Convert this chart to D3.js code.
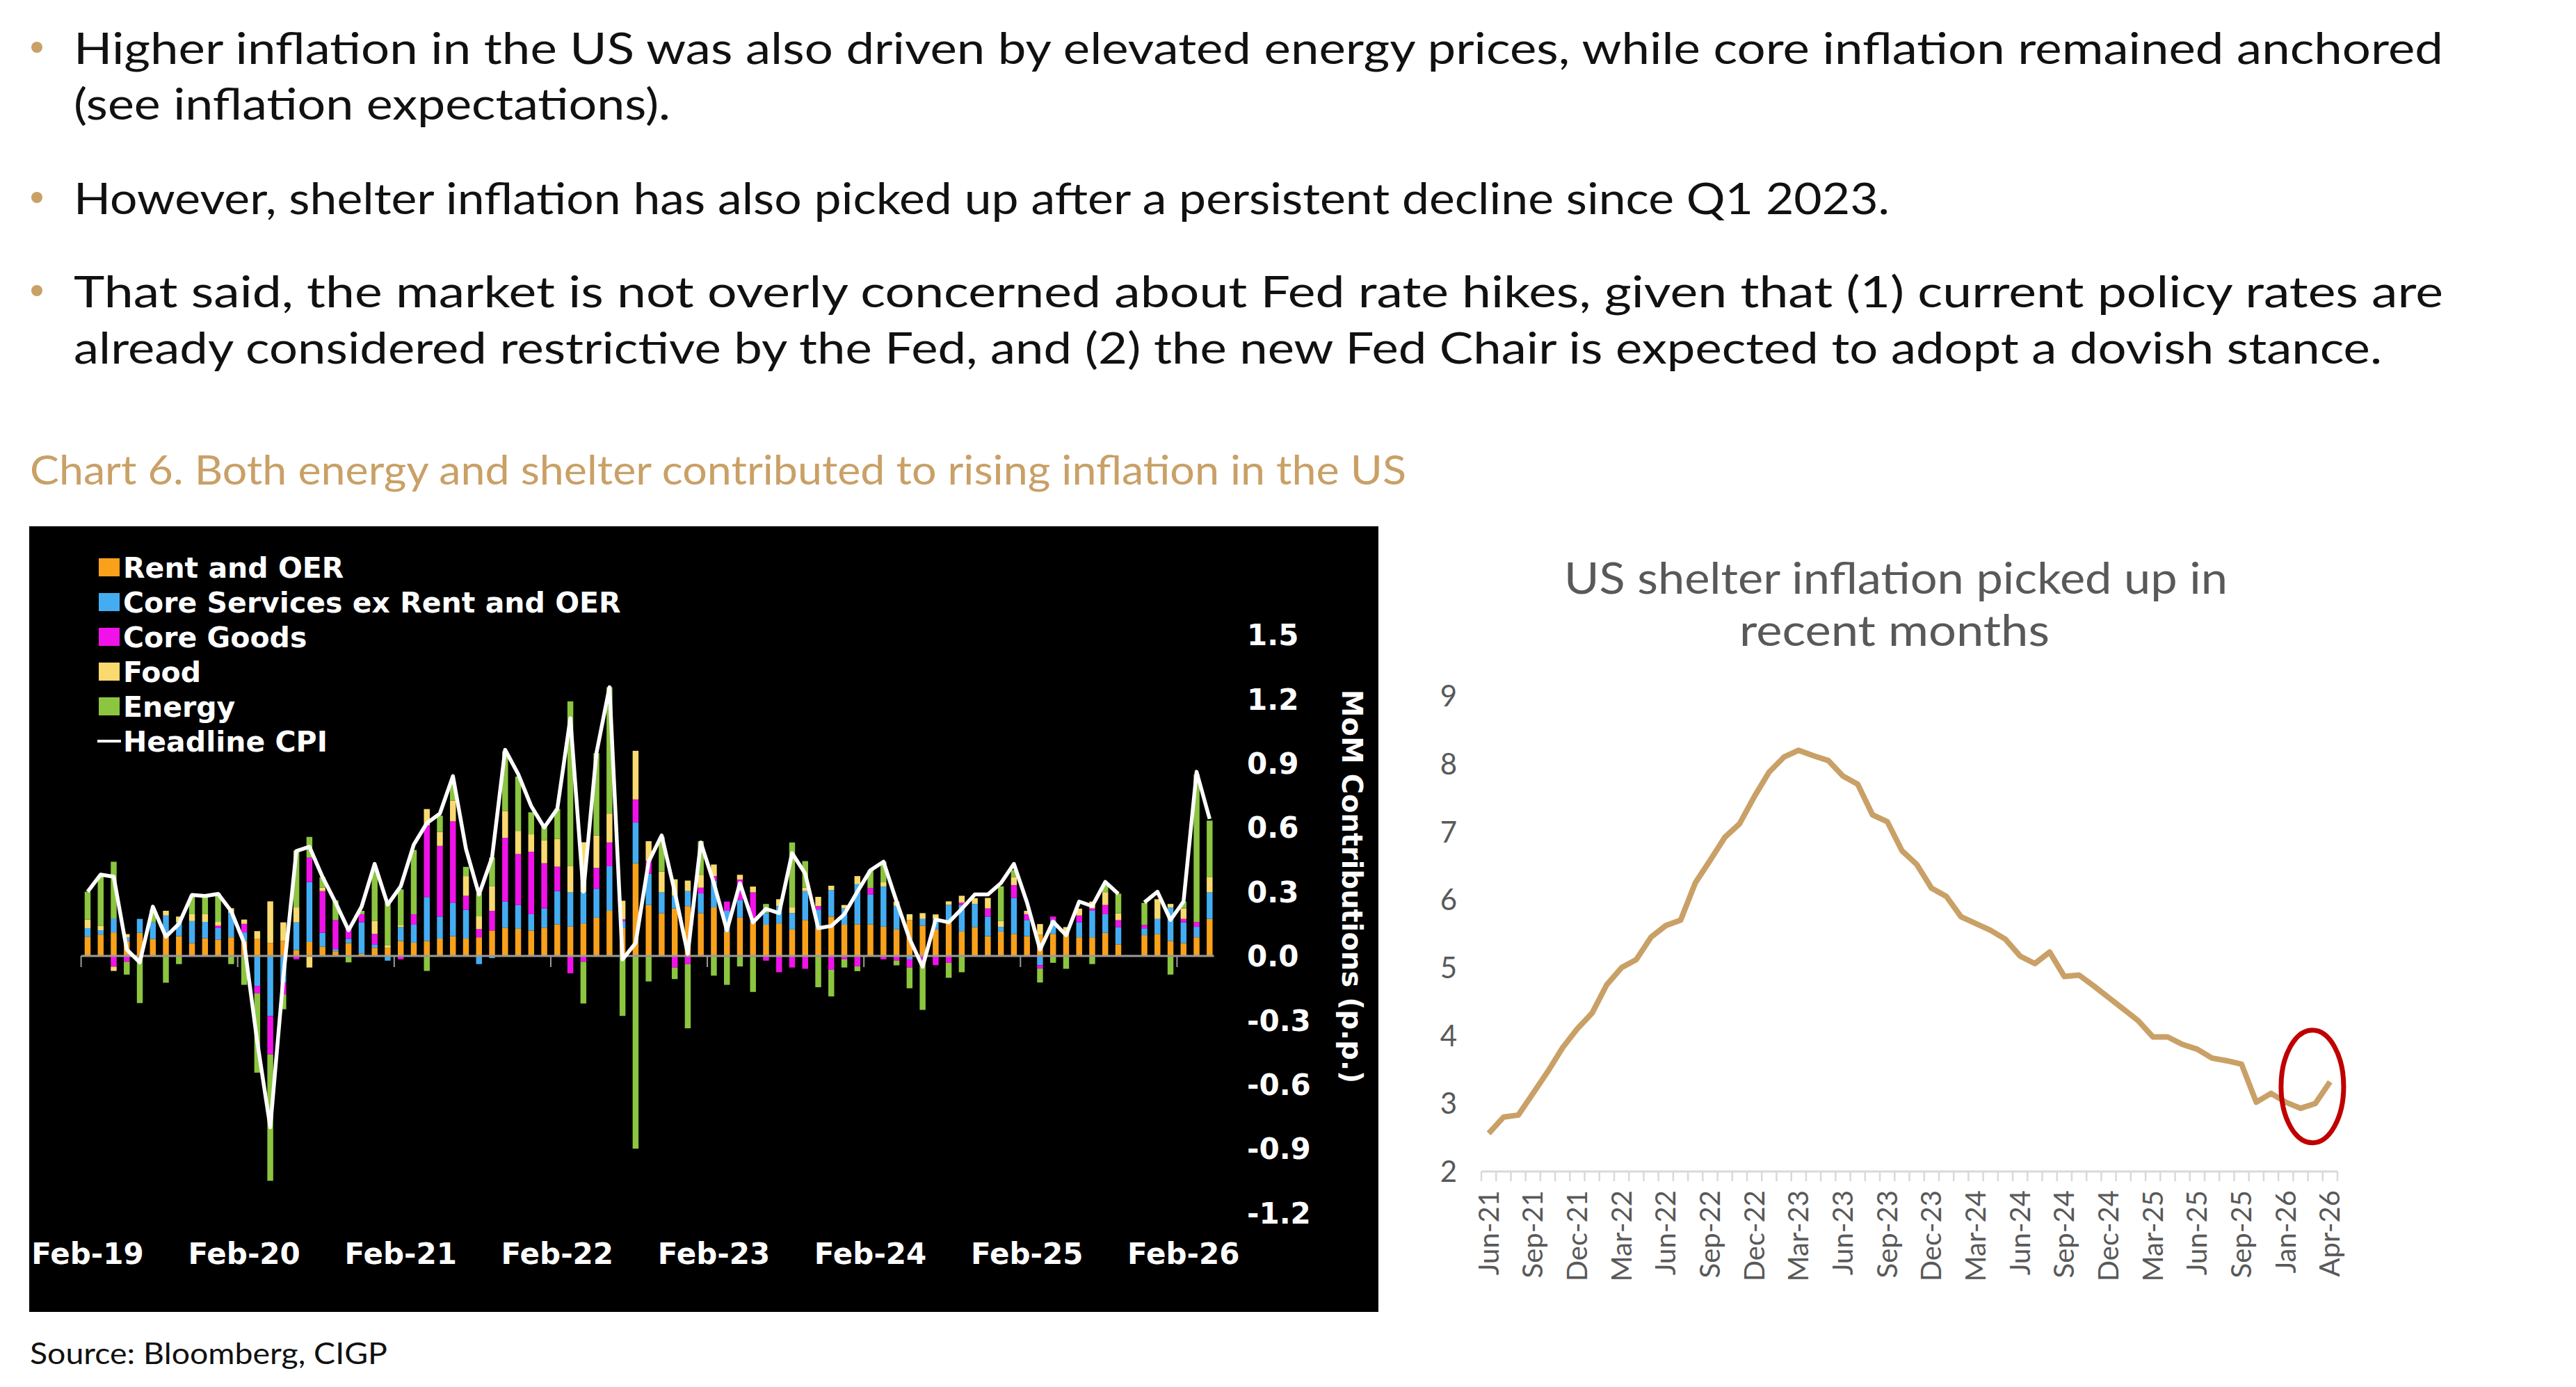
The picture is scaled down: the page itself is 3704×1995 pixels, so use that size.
<!DOCTYPE html>
<html>
<head>
<meta charset="utf-8">
<script src="https://cdn.jsdelivr.net/npm/d3@7"></script>
<style>
  html, body { margin: 0; padding: 0; background: #fff; }
  svg { display: block; }
</style>
</head>
<body>
<svg id="page" width="3704" height="1995"></svg>
<script>
/*** data: left panel, monthly CPI contributions (p.p.) */
const months = [
  "Feb-19","Mar-19","Apr-19","May-19","Jun-19","Jul-19","Aug-19","Sep-19","Oct-19","Nov-19","Dec-19",
  "Jan-20","Feb-20","Mar-20","Apr-20","May-20","Jun-20","Jul-20","Aug-20","Sep-20","Oct-20","Nov-20","Dec-20",
  "Jan-21","Feb-21","Mar-21","Apr-21","May-21","Jun-21","Jul-21","Aug-21","Sep-21","Oct-21","Nov-21","Dec-21",
  "Jan-22","Feb-22","Mar-22","Apr-22","May-22","Jun-22","Jul-22","Aug-22","Sep-22","Oct-22","Nov-22","Dec-22",
  "Jan-23","Feb-23","Mar-23","Apr-23","May-23","Jun-23","Jul-23","Aug-23","Sep-23","Oct-23","Nov-23","Dec-23",
  "Jan-24","Feb-24","Mar-24","Apr-24","May-24","Jun-24","Jul-24","Aug-24","Sep-24","Oct-24","Nov-24","Dec-24",
  "Jan-25","Feb-25","Mar-25","Apr-25","May-25","Jun-25","Jul-25","Aug-25","Sep-25","Oct-25","Nov-25","Dec-25",
  "Jan-26","Feb-26","Mar-26","Apr-26"
];

const rentOER = [
  .09,.10,.11,.07,.108,.079,.092,.092,.06,.083, .076,.087,.07,.079,.06,.07,.027,.065,.043,.022,
  .06,.011,.038,.038,.07,.062,.07,.081,.092,.081, .087,.119,.132,.127,.119,.132,.148,.137,.152,.179,
  .211,.13,.433,.238,.20,.222,.233,.20,.227,.114, .179,.157,.146,.152,.124,.168,.13,.184,.146,.148,
  .148,.137,.124,.168,.141,.124,.152,.114,.135,.092, .114,.103,.092,.10,.103,.097,.087,.087,.108,.054,
  null,.097,.103,.07,.06,.087,.173
];
const coreServices = [
  .04,.02,.065,.016,.065,.078,.097,.065,.103,.076, .054,.114,.04,-.14,-.28,-.125,.13,.28,.065,.01,
  .02,.146,.016,-.022,.065,.084,.205,.103,.157,.135, -.038,-.01,.122,.111,.076,.09,.155,.16,.146,.135,
  .208,.032,.19,.146,.097,.06,.07,.092,.124,.097, .081,.01,.054,.081,.076,.135,.087,.124,.076,.187,
  .138,.187,.11,-.016,.032,.05,.087,.124,.108,.092, .022,.168,.076,-.043,.065,0,.07,.124,.087,.081,
  null,.032,.07,.157,.097,.049,.124
];
const coreGoods = [
  0,0,-.05,-.027,0,0,0,0,0,0, .011,0,.04,-.035,-.18,-.054,-.016,.114,.195,.135,
  .05,.038,.049,0,-.016,.049,.335,.33,.38,.065, .038,.092,.298,.238,.292,.211,.114,-.081,-.027,.097,
  .111,.009,.108,.06,0,-.054,-.038,.027,.022,.043, .097,.13,-.022,-.076,-.054,-.06,.016,-.065,-.016,-.049,
  .032,-.016,-.022,-.038,-.022,-.043,-.032,.011,0,.038, 0,.06,.027,-.016,.016,0,.032,.011,.043,.032,
  null,.016,0,0,.016,.022,0
];
const food = [
  .04,.02,-.02,.016,0,0,.022,.027,.032,.036, .018,.022,.02,.037,.195,.087,.07,-.054,.016,0,
  0,0,.06,.011,.008,0,.076,.065,.097,.092, .06,.114,.124,.108,.081,.108,.13,.124,.233,.152,
  .135,.087,.227,.092,.097,.076,.049,.06,.054,0, .022,.027,0,.032,.027,.016,.043,.02,.016,.038,
  0,.02,.02,.027,.027,.02,.016,.032,.027,.049, .027,.038,.016,.049,0,.038,.032,.032,.06,.032,
  null,0,.092,.016,.049,0,.07
];
const energy = [
  .13,.23,.265,-.06,-.22,.06,-.125,-.038,.087,.087, .133,-.038,-.135,-.37,-.59,-.07,.265,.097,.049,.092,
  -.03,.016,.25,.20,.168,.30,-.07,.076,.08,.043, .108,.135,.28,.254,.103,.065,.14,.768,-.195,.384,
  .59,-.28,-.90,-.119,.162,-.054,-.30,.157,-.092,-.135, -.049,-.168,.043,0,.303,.124,-.146,-.124,-.038,-.022,
  .081,.097,-.022,-.097,-.23,0,-.07,-.076,0,0, .162,.032,0,-.065,-.032,-.06,0,-.038,.038,.092,
  null,.103,0,-.087,.032,.69,.265
];
const headlineCPI = [
  .30,.38,.37,.03,-.03,.23,.09,.15,.285,.28, .29,.21,.06,-.40,-.80,-.10,.49,.51,.37,.25,
  .12,.23,.43,.24,.325,.52,.62,.665,.84,.50, .287,.46,.963,.85,.70,.60,.687,1.11,.30,.947,
  1.255,-.016,.06,.44,.563,.30,.01,.53,.34,.12, .34,.157,.22,.20,.48,.385,.13,.14,.195,.30,
  .40,.44,.255,.08,-.05,.17,.157,.22,.287,.287, .34,.43,.25,.03,.16,.097,.254,.233,.346,.29,
  null,.25,.30,.168,.254,.86,.64
];

const leftXTicks = ["Feb-19","Feb-20","Feb-21","Feb-22","Feb-23","Feb-24","Feb-25","Feb-26"];
const leftYTicks = [1.5, 1.2, 0.9, 0.6, 0.3, 0.0, -0.3, -0.6, -0.9, -1.2];
const seriesNames = ["Rent and OER","Core Services ex Rent and OER","Core Goods","Food","Energy"];
const seriesColors = ["#F9A11B","#44ADF2","#F012E8","#FADA6E","#8CC540"];

/*** data: right panel, US shelter CPI YoY (%) */
const shelterMonths = [
  "Jun-21","Jul-21","Aug-21","Sep-21","Oct-21","Nov-21","Dec-21",
  "Jan-22","Feb-22","Mar-22","Apr-22","May-22","Jun-22","Jul-22","Aug-22","Sep-22","Oct-22","Nov-22","Dec-22",
  "Jan-23","Feb-23","Mar-23","Apr-23","May-23","Jun-23","Jul-23","Aug-23","Sep-23","Oct-23","Nov-23","Dec-23",
  "Jan-24","Feb-24","Mar-24","Apr-24","May-24","Jun-24","Jul-24","Aug-24","Sep-24","Oct-24","Nov-24","Dec-24",
  "Jan-25","Feb-25","Mar-25","Apr-25","May-25","Jun-25","Jul-25","Aug-25","Sep-25","Nov-25","Dec-25",
  "Jan-26","Feb-26","Mar-26","Apr-26"
];
const shelterYoY = [
  2.56,2.80,2.83,3.15,3.47,3.82,4.10,
  4.33,4.75,5.00,5.12,5.45,5.62,5.70,6.25,6.58,6.92,7.12,7.52,
  7.88,8.10,8.20,8.12,8.05,7.82,7.70,7.25,7.15,6.72,6.52,6.17,
  6.05,5.75,5.65,5.55,5.42,5.17,5.06,5.23,4.87,4.89,4.73,4.56,
  4.39,4.22,3.98,3.98,3.87,3.80,3.67,3.63,3.58,3.02,3.15,
  3.02,2.93,3.00,3.32
];
const shelterXLabels = ["Jun-21","Sep-21","Dec-21","Mar-22","Jun-22","Sep-22","Dec-22","Mar-23","Jun-23",
  "Sep-23","Dec-23","Mar-24","Jun-24","Sep-24","Dec-24","Mar-25","Jun-25","Sep-25","Jan-26","Apr-26"];
const rightYTicks = [2, 3, 4, 5, 6, 7, 8, 9];

/*** page text */
const bullets = [
  {lines: ["Higher inflation in the US was also driven by elevated energy prices, while core inflation remained anchored",
           "(see inflation expectations)."], widths: [3407, 858], y: [92, 172]},
  {lines: ["However, shelter inflation has also picked up after a persistent decline since Q1 2023."], widths: [2611], y: [308]},
  {lines: ["That said, the market is not overly concerned about Fed rate hikes, given that (1) current policy rates are",
           "already considered restrictive by the Fed, and (2) the new Fed Chair is expected to adopt a dovish stance."],
   widths: [3407, 3319], y: [442, 523]}
];

const gold = "#C9A066";
const svg = d3.select("#page");
svg.append("rect").attr("width", 3704).attr("height", 1995).attr("fill", "#fff");

const bodyFont = "Lato, 'Noto Sans', sans-serif";
const bbgFont = "'DejaVu Sans', Verdana, sans-serif";

/*** bullets */
bullets.forEach(b => {
  svg.append("circle").attr("cx", 53).attr("cy", b.y[0] - 24).attr("r", 8).attr("fill", gold);
  b.lines.forEach((t, i) => {
    svg.append("text")
      .attr("x", 106).attr("y", b.y[i])
      .attr("font-family", bodyFont).attr("font-size", 62).attr("fill", "#111")
      .attr("textLength", b.widths[i]).attr("lengthAdjust", "spacingAndGlyphs")
      .text(t);
  });
});

svg.append("text")
  .attr("x", 43).attr("y", 697)
  .attr("font-family", bodyFont).attr("font-size", 58).attr("fill", gold)
  .attr("textLength", 1979).attr("lengthAdjust", "spacingAndGlyphs")
  .text("Chart 6. Both energy and shelter contributed to rising inflation in the US");

svg.append("text")
  .attr("x", 43).attr("y", 1962)
  .attr("font-family", bodyFont).attr("font-size", 42).attr("fill", "#111")
  .attr("textLength", 514).attr("lengthAdjust", "spacingAndGlyphs")
  .text("Source: Bloomberg, CIGP");

/****************************************
*** Left panel: stacked contributions
*****************************************/
const left = svg.append("g");
left.append("rect").attr("x", 42).attr("y", 757).attr("width", 1940).attr("height", 1130).attr("fill", "#000");

const xL = d3.scaleBand().domain(months).range([116.6, 1748.7]).paddingInner(0.55).paddingOuter(0.275);
const yL = d3.scaleLinear().domain([-1.2, 1.5]).range([1744.6, 913]);

const keys = ["rent", "svc", "goods", "food", "energy"];
const rows = months.map((m, i) => ({
  month: m, rent: rentOER[i], svc: coreServices[i], goods: coreGoods[i], food: food[i], energy: energy[i]
})).filter(r => r.rent !== null);

const stacked = d3.stack().keys(keys).offset(d3.stackOffsetDiverging)(rows);

left.append("g").selectAll("g")
  .data(stacked)
  .join("g")
  .attr("fill", (d, i) => seriesColors[i])
  .selectAll("rect")
  .data(d => d)
  .join("rect")
  .attr("x", d => xL(d.data.month))
  .attr("width", xL.bandwidth())
  .attr("y", d => yL(Math.max(d[0], d[1])))
  .attr("height", d => Math.abs(yL(d[0]) - yL(d[1])));

/*** zero line and year ticks */
const step = xL.step();
left.append("line")
  .attr("x1", xL(months[0]) - (step - xL.bandwidth()) / 2).attr("x2", xL(months[months.length - 1]) + xL.bandwidth() + 2)
  .attr("y1", yL(0)).attr("y2", yL(0))
  .attr("stroke", "#9a9a9a").attr("stroke-width", 3);
left.append("g").selectAll("line")
  .data(leftXTicks)
  .join("line")
  .attr("x1", d => xL(d) + xL.bandwidth() / 2 - step / 2)
  .attr("x2", d => xL(d) + xL.bandwidth() / 2 - step / 2)
  .attr("y1", yL(0)).attr("y2", yL(0) + 16)
  .attr("stroke", "#9a9a9a").attr("stroke-width", 2);

/*** headline CPI */
const cpiLine = d3.line()
  .defined(d => d.v !== null)
  .x(d => xL(d.m) + xL.bandwidth() / 2)
  .y(d => yL(d.v));
left.append("path")
  .datum(months.map((m, i) => ({m: m, v: headlineCPI[i]})))
  .attr("d", cpiLine)
  .attr("fill", "none").attr("stroke", "#fff").attr("stroke-width", 5.5)
  .attr("stroke-linejoin", "round");

/*** axes text */
left.append("g").selectAll("text")
  .data(leftXTicks)
  .join("text")
  .attr("x", d => xL(d) + xL.bandwidth() / 2)
  .attr("y", 1818)
  .attr("text-anchor", "middle")
  .attr("font-family", bbgFont).attr("font-weight", "bold").attr("font-size", 42).attr("fill", "#fff")
  .text(d => d);

left.append("g").selectAll("text")
  .data(leftYTicks)
  .join("text")
  .attr("x", 1793)
  .attr("y", d => yL(d))
  .attr("dy", "0.36em")
  .attr("font-family", bbgFont).attr("font-weight", "bold").attr("font-size", 42).attr("fill", "#fff")
  .text(d => d.toFixed(1));

left.append("text")
  .attr("transform", "translate(1930,1275) rotate(90)")
  .attr("text-anchor", "middle")
  .attr("font-family", bbgFont).attr("font-weight", "bold").attr("font-size", 40).attr("fill", "#fff")
  .text("MoM Contributions (p.p.)");

/*** legend */
const legend = left.append("g");
seriesNames.forEach((name, i) => {
  const cy = 816 + i * 50;
  legend.append("rect").attr("x", 142).attr("y", cy - 13).attr("width", 30).attr("height", 26).attr("fill", seriesColors[i]);
  legend.append("text").attr("x", 177).attr("y", cy).attr("dy", "0.36em")
    .attr("font-family", bbgFont).attr("font-weight", "bold").attr("font-size", 41).attr("fill", "#fff")
    .text(name);
});
legend.append("line").attr("x1", 140).attr("x2", 174).attr("y1", 1066).attr("y2", 1066)
  .attr("stroke", "#fff").attr("stroke-width", 4);
legend.append("text").attr("x", 177).attr("y", 1066).attr("dy", "0.36em")
  .attr("font-family", bbgFont).attr("font-weight", "bold").attr("font-size", 41).attr("fill", "#fff")
  .text("Headline CPI");

/****************************************
*** Right panel: shelter inflation
*****************************************/
const right = svg.append("g");
const xR = d3.scaleBand().domain(shelterMonths).range([2130, 3361]);
const yR = d3.scaleLinear().domain([2, 9]).range([1685, 1001]);

right.append("text").attr("x", 2726).attr("y", 854).attr("text-anchor", "middle")
  .attr("font-family", bodyFont).attr("font-size", 62).attr("fill", "#595959")
  .attr("textLength", 954).attr("lengthAdjust", "spacingAndGlyphs")
  .text("US shelter inflation picked up in");
right.append("text").attr("x", 2724).attr("y", 929).attr("text-anchor", "middle")
  .attr("font-family", bodyFont).attr("font-size", 62).attr("fill", "#595959")
  .attr("textLength", 446).attr("lengthAdjust", "spacingAndGlyphs")
  .text("recent months");

right.append("g").selectAll("text")
  .data(rightYTicks)
  .join("text")
  .attr("x", 2095).attr("y", d => yR(d)).attr("dy", "0.36em")
  .attr("text-anchor", "end")
  .attr("font-family", bodyFont).attr("font-size", 42).attr("fill", "#595959")
  .text(d => d);

/*** category axis with ticks at every boundary */
right.append("line").attr("x1", 2130).attr("x2", 3361).attr("y1", yR(2)).attr("y2", yR(2))
  .attr("stroke", "#D9D9D9").attr("stroke-width", 3);
right.append("g").selectAll("line")
  .data(shelterMonths.concat(["end"]))
  .join("line")
  .attr("x1", (d, i) => 2130 + i * xR.step())
  .attr("x2", (d, i) => 2130 + i * xR.step())
  .attr("y1", yR(2)).attr("y2", yR(2) + 14)
  .attr("stroke", "#D9D9D9").attr("stroke-width", 2.5);

right.append("g").selectAll("text")
  .data(shelterXLabels)
  .join("text")
  .attr("transform", d => `translate(${xR(d) + xR.bandwidth() / 2 + 14},1712) rotate(-90)`)
  .attr("text-anchor", "end")
  .attr("font-family", bodyFont).attr("font-size", 40).attr("fill", "#595959")
  .text(d => d);

const shelterLine = d3.line()
  .x(d => xR(d.m) + xR.bandwidth() / 2)
  .y(d => yR(d.v));
right.append("path")
  .datum(shelterMonths.map((m, i) => ({m: m, v: shelterYoY[i]})))
  .attr("d", shelterLine)
  .attr("fill", "none").attr("stroke", gold).attr("stroke-width", 8)
  .attr("stroke-linejoin", "round");

/*** highlight of the latest pick-up */
right.append("ellipse")
  .attr("cx", xR("Mar-26") + xR.bandwidth() * 0.3)
  .attr("cy", yR(3.25))
  .attr("rx", 45).attr("ry", 81)
  .attr("fill", "none").attr("stroke", "#C00000").attr("stroke-width", 7);
</script>
</body>
</html>
